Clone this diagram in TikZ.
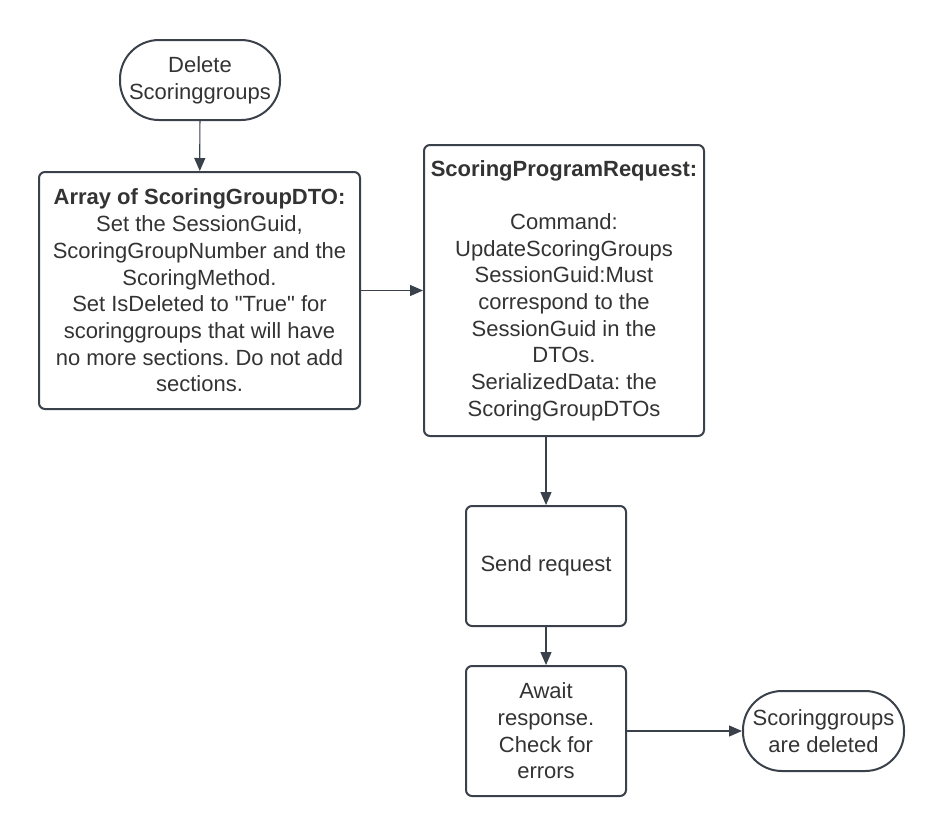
\documentclass[tikz,border=0pt]{standalone}
\usepackage{fontspec}
\setmainfont{Liberation Sans}
\newfontfamily\plainf{Liberation Sans}
\usetikzlibrary{arrows.meta}
\definecolor{lineC}{RGB}{58,65,74}
\definecolor{textC}{RGB}{51,51,51}
\frenchspacing
\tikzset{
  box/.style={draw=lineC, line width=2pt, rounded corners=6pt, align=center, text=textC, inner sep=0pt,
    font=\plainf\fontsize{22}{26.7}\selectfont},
  term/.style={box, rounded corners=39pt},
  conn/.style={draw=lineC, line width=1.2pt, -{Triangle[length=13pt,width=11pt]}}
}
\begin{document}
\begin{tikzpicture}[x=1pt,y=-1pt]
\useasboundingbox (0,0) rectangle (944,836);
\node[term, minimum width=160pt, minimum height=80pt] (start) at (200,80) {Delete\\Scoringgroups};
\node[box, minimum width=321pt, minimum height=237pt] (dto) at (199.5,290.5)
  {\textbf{Array of ScoringGroupDTO:}\\Set the SessionGuid,\\ScoringGroupNumber and the\\ScoringMethod.\\Set IsDeleted to "True" for\\scoringgroups that will have\\no more sections. Do not add\\sections.};
\node[box, minimum width=280pt, minimum height=291pt] (req) at (564,290.5)
  {\textbf{ScoringProgramRequest:}\\[26.7pt]Command:\\UpdateScoringGroups\\SessionGuid:Must\\correspond to the\\SessionGuid in the\\DTOs.\\SerializedData: the\\ScoringGroupDTOs};
\node[box, minimum width=160pt, minimum height=120pt] (send) at (546,566) {Send request};
\node[box, minimum width=160pt, minimum height=130pt] (await) at (546,731) {Await\\response.\\Check for\\errors};
\node[term, minimum width=161pt, minimum height=80pt] (done) at (823.5,731) {Scoringgroups\\are deleted};
\draw[conn] (start) -- (dto);
\draw[conn] (dto) -- (req);
\draw[conn] (req.south -| send.north) -- (send.north);
\draw[conn] (send) -- (await);
\draw[conn] (await) -- (done);
\end{tikzpicture}
\end{document}
